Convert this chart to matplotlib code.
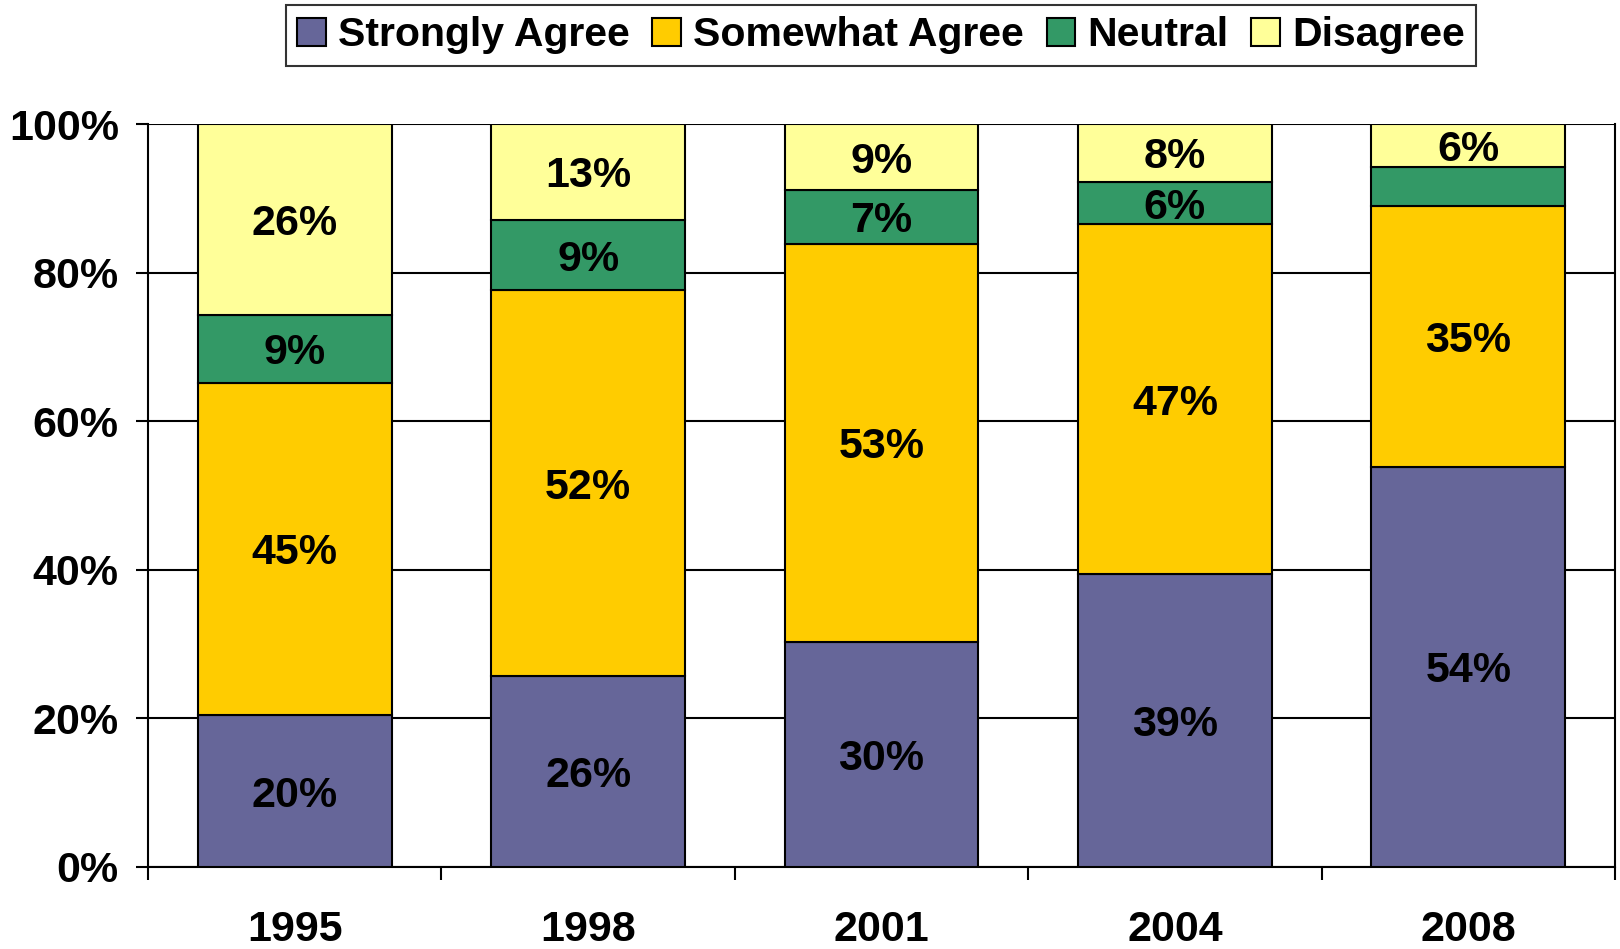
import matplotlib
matplotlib.use("Agg")
import matplotlib.pyplot as plt
import numpy as np
from matplotlib.ticker import FixedLocator, FuncFormatter

years = ["1995", "1998", "2001", "2004", "2008"]
series_names = ["Strongly Agree", "Somewhat Agree", "Neutral", "Disagree"]
strongly_agree = [20.4, 25.7, 30.3, 39.4, 53.9]
somewhat_agree = [44.8, 51.9, 53.6, 47.1, 35.1]
neutral = [9.1, 9.5, 7.2, 5.7, 5.2]
disagree = [25.7, 12.9, 8.9, 7.8, 5.8]
label_texts = [
    ["20%", "26%", "30%", "39%", "54%"],
    ["45%", "52%", "53%", "47%", "35%"],
    ["9%", "9%", "7%", "6%", ""],
    ["26%", "13%", "9%", "8%", "6%"],
]
colors = ["#666699", "#FFCC00", "#339966", "#FFFF99"]

plt.rcParams['font.family'] = ['Liberation Sans', 'DejaVu Sans']
plt.rcParams['font.weight'] = 'bold'

fig = plt.figure(figsize=(16.2, 9.49), dpi=100)
ax = fig.add_axes([148/1620, 1-867/949, (1615-148)/1620, (867-124)/949])

data = [strongly_agree, somewhat_agree, neutral, disagree]
x = np.arange(len(years))
bottom = np.zeros(len(years))
handles = []
for vals, name, col, labs in zip(data, series_names, colors, label_texts):
    vals = np.array(vals)
    bars = ax.bar(x, vals, 0.66, bottom=bottom, color=col, edgecolor="black",
                  linewidth=1.5, label=name, zorder=3)
    handles.append(bars)
    for xi, b, v, t in zip(x, bottom, vals, labs):
        if t:
            ax.text(xi, b + v/2, t, ha="center", va="center_baseline", fontsize=31,
                    fontweight="bold", zorder=4)
    bottom += vals

ax.set_xlim(-0.5, len(years) - 0.5)
ax.set_ylim(0, 100)
ax.set_yticks([0, 20, 40, 60, 80, 100])
ax.yaxis.set_major_formatter(FuncFormatter(lambda v, p: f"{int(v)}%"))
ax.yaxis.grid(True, color="black", linewidth=1.5, zorder=0)
ax.set_axisbelow(True)

ax.set_xticks(x)
ax.set_xticklabels(years)
ax.xaxis.set_minor_locator(FixedLocator(np.arange(len(years) + 1) - 0.5))
ax.tick_params(axis="x", which="major", length=0, pad=31, labelsize=31)
ax.tick_params(axis="x", which="minor", length=9, width=1.5, direction="out")
ax.tick_params(axis="y", which="major", length=9, width=1.5, pad=12, labelsize=31)
for lab in ax.get_xticklabels() + ax.get_yticklabels():
    lab.set_fontweight("bold")

for s in ["left", "bottom", "right"]:
    ax.spines[s].set_linewidth(1.5)
    ax.spines[s].set_color("black")
ax.spines["top"].set_visible(False)

leg = fig.legend(handles=handles, labels=series_names, loc="upper center",
                 bbox_to_anchor=(881/1620, 1-5/949), ncol=4, fontsize=29.5,
                 frameon=True, fancybox=False, edgecolor="black",
                 handlelength=0.7, handleheight=0.7, handletextpad=0.3,
                 columnspacing=0.55, borderpad=0.28, borderaxespad=0)
leg.get_frame().set_linewidth(1.5)
for t in leg.get_texts():
    t.set_fontweight("bold")

fig.savefig("out.png", dpi=100)
